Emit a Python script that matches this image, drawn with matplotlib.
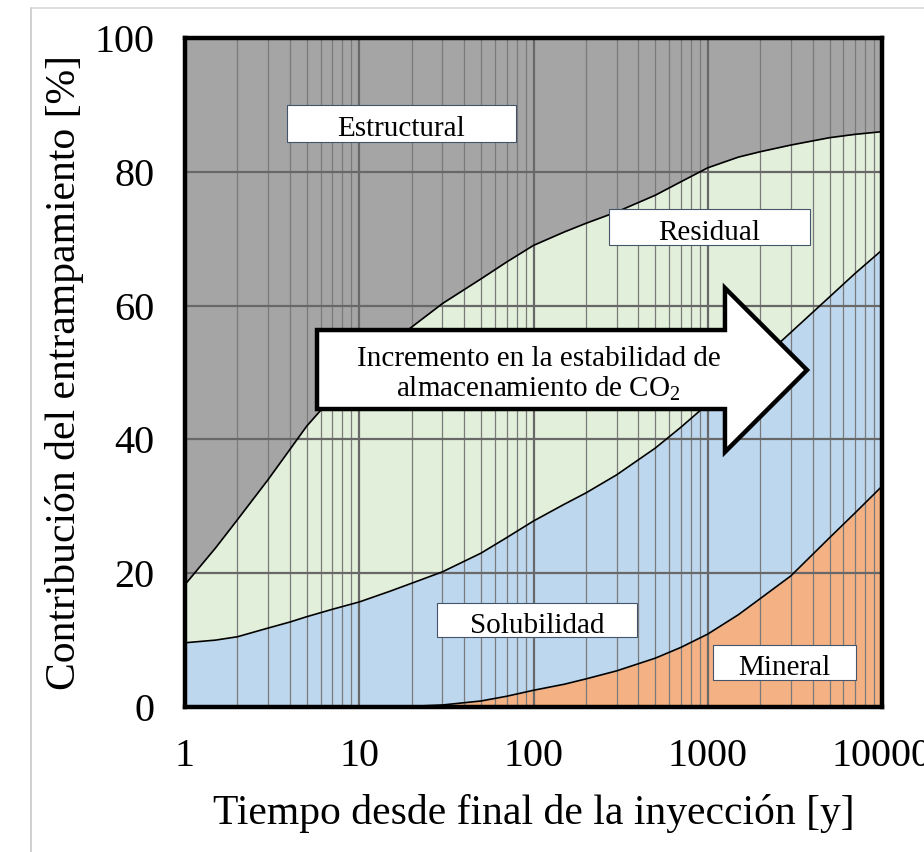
import matplotlib
matplotlib.use("Agg")
import matplotlib.pyplot as plt
from matplotlib.patches import Polygon, Rectangle
from matplotlib.lines import Line2D

# ---- data (cumulative boundaries, %) ----
years = [1, 1.5, 2, 3, 4, 5, 7, 10, 15, 20, 30, 50, 70, 100, 150, 200, 300,
         500, 700, 1000, 1500, 2000, 3000, 5000, 7000, 10000]
mineral_top = [0, 0, 0, 0, 0, 0, 0, 0, 0.05, 0.1, 0.3, 0.9, 1.6, 2.5, 3.4,
               4.2, 5.4, 7.3, 8.9, 10.9, 13.8, 16.2, 19.6, 25.3, 29.0, 33.0]
solubility_top = [9.6, 10.0, 10.5, 11.8, 12.7, 13.5, 14.6, 15.7, 17.3, 18.5,
                  20.2, 23.0, 25.3, 27.8, 30.3, 32.0, 34.7, 38.7, 41.8, 45.3,
                  49.2, 51.8, 56.0, 61.3, 64.8, 68.3]
residual_top = [18.3, 23.8, 28.0, 34.0, 38.5, 42.0, 46.3, 50.0, 54.2, 56.8,
                60.3, 64.0, 66.5, 69.0, 71.0, 72.3, 74.0, 76.5, 78.5, 80.6,
                82.2, 83.0, 84.0, 85.1, 85.6, 86.0]
structural_top = [100] * len(years)

xticks = [1, 10, 100, 1000, 10000]
xticklabels = ["1", "10", "100", "1000", "10000"]
yticks = [0, 20, 40, 60, 80, 100]

region_labels = ["Estructural", "Residual", "Solubilidad", "Mineral"]
arrow_text = "Incremento en la estabilidad de\nalmacenamiento de CO$_2$"
xlabel = "Tiempo desde final de la inyección [y]"
ylabel = "Contribución del entrampamiento [%]"

plt.rcParams["font.family"] = ["Liberation Serif", "DejaVu Serif"]
plt.rcParams["mathtext.fontset"] = "custom"
plt.rcParams["mathtext.rm"] = "Liberation Serif"

fig = plt.figure(figsize=(9.24, 8.52), dpi=100)
ax = fig.add_axes([185 / 924, 1 - 707 / 852, 697 / 924, 669 / 852])

c_struct = "#a5a5a5"
c_resid = "#e2efda"
c_solub = "#bdd7ee"
c_mineral = "#f4b183"

zeros = [0] * len(years)
ax.fill_between(years, zeros, mineral_top, color=c_mineral, lw=0, zorder=1)
ax.fill_between(years, mineral_top, solubility_top, color=c_solub, lw=0, zorder=1)
ax.fill_between(years, solubility_top, residual_top, color=c_resid, lw=0, zorder=1)
ax.fill_between(years, residual_top, structural_top, color=c_struct, lw=0, zorder=1)

# grid over fills
for v in [d * m for d in [1, 10, 100, 1000] for m in range(2, 10)]:
    ax.axvline(v, color="#7a7a7a", lw=0.9, zorder=2)
for v in [10, 100, 1000]:
    ax.axvline(v, color="#686868", lw=1.6, zorder=2)
for h in [20, 40, 60, 80]:
    ax.axhline(h, color="#686868", lw=1.6, zorder=2)

for ys in [mineral_top, solubility_top, residual_top]:
    ax.plot(years, ys, color="black", lw=1.2, zorder=3)

ax.set_xscale("log")
ax.set_xlim(1, 10000)
ax.set_ylim(0, 100)
ax.set_xticks(xticks)
ax.set_xticklabels(xticklabels)
ax.xaxis.set_minor_locator(matplotlib.ticker.NullLocator())
ax.set_yticks(yticks)
ax.tick_params(axis="both", length=0, labelsize=29)
ax.tick_params(axis="x", pad=22)
ax.tick_params(axis="y", pad=22)
for s in ax.spines.values():
    s.set_linewidth(3.2)
    s.set_color("black")
    s.set_zorder(6)

ax.set_xlabel(xlabel, fontsize=30)
ax.set_ylabel(ylabel, fontsize=30)
ax.xaxis.set_label_coords(0.5, -0.130)
ax.yaxis.set_label_coords(-0.145, 0.5)

# label boxes (axes fraction)
boxes = [(0.1463, 0.8445, 0.4749, 0.8999),
         (0.6083, 0.6906, 0.8967, 0.7444),
         (0.3616, 0.1046, 0.6485, 0.1555),
         (0.7575, 0.0404, 0.9627, 0.0927)]
for (x0, y0, x1, y1), lab in zip(boxes, region_labels):
    ax.add_patch(Rectangle((x0, y0), x1 - x0, y1 - y0, transform=ax.transAxes,
                           facecolor="white", edgecolor="#44546a", lw=0.8, zorder=7))
    ax.text((x0 + x1) / 2, (y0 + y1) / 2 - 0.004, lab, transform=ax.transAxes,
            ha="center", va="center_baseline", fontsize=21, zorder=8)

# big arrow
bx0, bx1 = 0.1894, 0.7747
by0, by1 = 0.4454, 0.5635
hy0, hy1 = 0.3812, 0.6263
tipx, tipy = 0.8924, 0.5037
arrow_pts = [(bx0, by0), (bx1, by0), (bx1, hy0), (tipx, tipy),
             (bx1, hy1), (bx1, by1), (bx0, by1)]
ax.add_patch(Polygon(arrow_pts, closed=True, transform=ax.transAxes,
                     facecolor="white", edgecolor="black", lw=3.2,
                     joinstyle="miter", zorder=7))
ax.text(0.507, 0.497, arrow_text, transform=ax.transAxes, ha="center",
        va="center", fontsize=21, linespacing=1.12, zorder=8)

# faint page border
fig.add_artist(Line2D([31 / 924, 31 / 924], [0, 1 - 8 / 852], color="#c8c8c8",
                      lw=1.2, transform=fig.transFigure))
fig.add_artist(Line2D([31 / 924, 1], [1 - 8 / 852, 1 - 8 / 852], color="#d8d8d8",
                      lw=1.2, transform=fig.transFigure))

fig.savefig("out.png", dpi=100, facecolor="white")
